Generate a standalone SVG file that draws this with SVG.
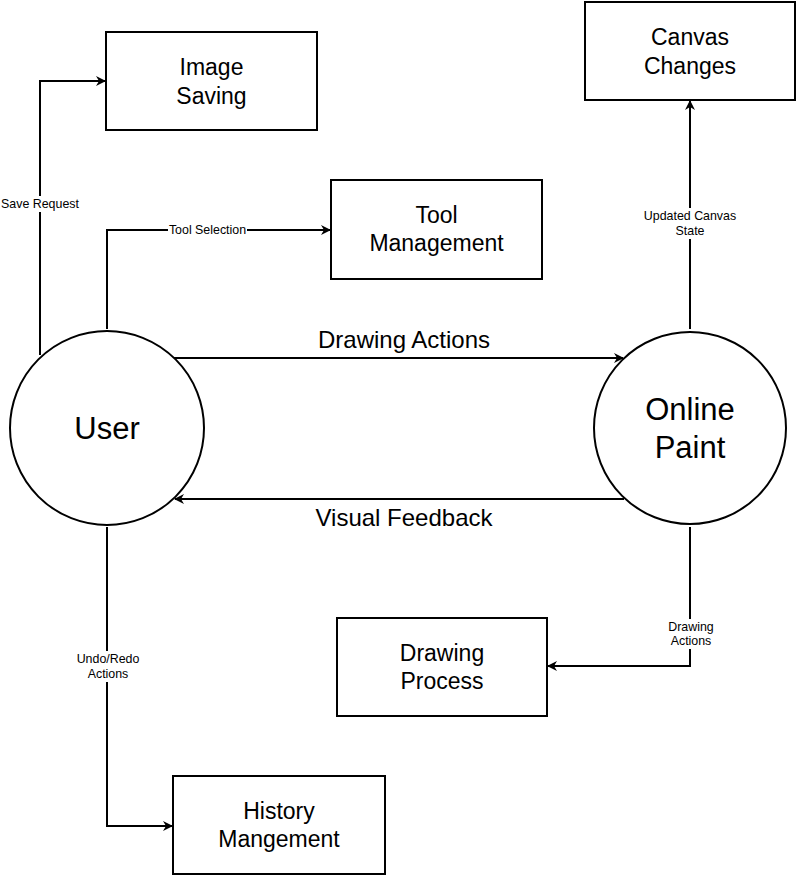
<svg xmlns="http://www.w3.org/2000/svg" width="797" height="876" viewBox="0 0 797 876">
<style>
.box{fill:#fff;stroke:#000;stroke-width:2}
.circ{fill:#fff;stroke:#000;stroke-width:2}
.edge{fill:none;stroke:#000;stroke-width:2;marker-end:url(#arr)}
.t{font-family:"Liberation Sans",Arial,sans-serif;fill:#000;text-anchor:middle}
.big{font-size:31px}
.mid{font-size:23px}
.lab{font-size:24px}
.sm{font-size:12.4px}
.lbg{fill:#fff}
</style>
<defs>
<marker id="arr" viewBox="0 0 10 10" refX="9" refY="5" markerWidth="11" markerHeight="10" markerUnits="userSpaceOnUse" orient="auto">
<path d="M0,0 L10,5 L0,10 L3,5 Z" fill="#000"/>
</marker>
</defs>
<rect width="797" height="876" fill="#fff"/>
<g id="connectors">
<g id="e-save">
<path class="edge" d="M40,355 L40,81 L105,81"/>
<rect class="lbg" x="1" y="196" width="78" height="16"/>
<text class="t sm" x="40" y="208">Save Request</text>
</g>
<g id="e-tool">
<path class="edge" d="M107,329 L107,230 L330,230"/>
<rect class="lbg" x="168" y="222" width="79" height="16"/>
<text class="t sm" x="207.5" y="234">Tool Selection</text>
</g>
<g id="e-canvas">
<path class="edge" d="M690,329 L690,101"/>
<rect class="lbg" x="640" y="208" width="100" height="31"/>
<text class="t sm" x="690" y="220">Updated Canvas</text>
<text class="t sm" x="690" y="235">State</text>
</g>
<g id="e-drawproc">
<path class="edge" d="M690,527 L690,666 L548,666"/>
<rect class="lbg" x="668" y="619" width="46" height="30"/>
<text class="t sm" x="691" y="631">Drawing</text>
<text class="t sm" x="691" y="645">Actions</text>
</g>
<g id="e-history">
<path class="edge" d="M107,527 L107,826 L172,826"/>
<rect class="lbg" x="75" y="651" width="66" height="31"/>
<text class="t sm" x="108" y="663">Undo/Redo</text>
<text class="t sm" x="108" y="678">Actions</text>
</g>
<g id="e-drawact">
<path class="edge" d="M174,358 L623,358"/>
<text class="t lab" x="404" y="348">Drawing Actions</text>
</g>
<g id="e-feedback">
<path class="edge" d="M624,499 L175,499"/>
<text class="t lab" x="404" y="526">Visual Feedback</text>
</g>
</g>
<g id="user">
<circle class="circ" cx="107" cy="428" r="97"/>
<text class="t big" x="107" y="439">User</text>
</g>
<g id="online-paint">
<circle class="circ" cx="690" cy="428" r="96"/>
<text class="t big" x="690" y="420">Online</text>
<text class="t big" x="690" y="458">Paint</text>
</g>
<g id="image-saving">
<rect class="box" x="106" y="32" width="211" height="98"/>
<text class="t mid" x="211.5" y="75">Image</text>
<text class="t mid" x="211.5" y="104">Saving</text>
</g>
<g id="tool-management">
<rect class="box" x="331" y="180" width="211" height="99"/>
<text class="t mid" x="436.5" y="223">Tool</text>
<text class="t mid" x="436.5" y="251">Management</text>
</g>
<g id="canvas-changes">
<rect class="box" x="585" y="2" width="210" height="98"/>
<text class="t mid" x="690" y="45">Canvas</text>
<text class="t mid" x="690" y="74">Changes</text>
</g>
<g id="drawing-process">
<rect class="box" x="337" y="618" width="210" height="98"/>
<text class="t mid" x="442" y="661">Drawing</text>
<text class="t mid" x="442" y="689">Process</text>
</g>
<g id="history-mangement">
<rect class="box" x="173" y="776" width="212" height="98"/>
<text class="t mid" x="279" y="819">History</text>
<text class="t mid" x="279" y="847">Mangement</text>
</g>
</svg>
